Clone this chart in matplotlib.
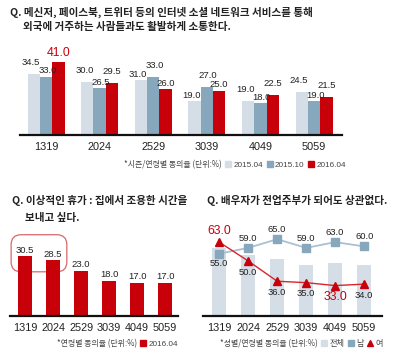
import matplotlib
matplotlib.use('Agg')
import matplotlib.pyplot as plt
from matplotlib.patches import FancyBboxPatch, Patch
from matplotlib.lines import Line2D

plt.rcParams['font.family'] = ['Liberation Sans', 'Noto Sans CJK KR', 'DejaVu Sans']

KR = ['Noto Sans CJK KR', 'DejaVu Sans']

# ── Data ───────────────────────────────────────────────────────────
ages = ['1319', '2024', '2529', '3039', '4049', '5059']

sns_2015_04 = [34.5, 30.0, 31.0, 19.0, 19.0, 24.5]
sns_2015_10 = [33.0, 26.5, 33.0, 27.0, 18.0, 19.0]
sns_2016_04 = [41.0, 29.5, 26.0, 25.0, 22.5, 21.5]

holiday_2016_04 = [30.5, 28.5, 23.0, 18.0, 17.0, 17.0]

spouse_total = [59.0, 54.0, 51.0, 47.5, 48.5, 47.5]
spouse_male = [55.0, 59.0, 65.0, 59.0, 63.0, 60.0]
spouse_female = [63.0, 50.0, 36.0, 35.0, 33.0, 34.0]

LIGHT = '#d5dee7'
MID = '#87a7bd'
RED = '#c8000a'
LINE_M = '#a9c1d3'
LINE_F = '#d8262c'
TXT = '#222222'

fig = plt.figure(figsize=(4.0, 3.6), dpi=100)
x = list(range(len(ages)))


def style_axis(ax, pad):
    for s in ['top', 'right', 'left']:
        ax.spines[s].set_visible(False)
    ax.spines['bottom'].set_linewidth(1.6)
    ax.spines['bottom'].set_color('#111111')
    ax.set_yticks([])
    ax.set_xticks(x)
    ax.set_xticklabels(ages, fontsize=7.8, color=TXT)
    ax.tick_params(axis='x', length=0, pad=pad)
    ax.set_facecolor('none')


def footnote(note, handles, labels, right, y):
    leg = fig.legend(handles, labels, loc='center right',
                     bbox_to_anchor=(right, y), bbox_transform=fig.transFigure,
                     ncol=len(handles), frameon=False, fontsize=5.9,
                     handlelength=0.7, handleheight=0.7, handletextpad=0.3,
                     columnspacing=0.45, borderpad=0, borderaxespad=0)
    for t in leg.get_texts():
        t.set_color('#444444')
    fig.canvas.draw()
    bb = leg.get_window_extent().transformed(fig.transFigure.inverted())
    fig.text(bb.x0 - 0.008, y, note, ha='right', va='center',
             fontsize=5.7, color='#444444', family=KR)


# ── Panel 1: SNS ───────────────────────────────────────────────────
ax1 = fig.add_axes([0.05, 0.625, 0.805, 0.236])
bw = 0.23
series = [sns_2015_04, sns_2015_10, sns_2016_04]
colors = [LIGHT, MID, RED]
xshift = [-2, 1, 0]
for i, vals in enumerate(series):
    xs = [xi + (i - 1) * bw for xi in x]
    ax1.bar(xs, vals, width=bw, color=colors[i], zorder=2)
    for g, (xi, v) in enumerate(zip(xs, vals)):
        # lift a label when it sits just above a slightly lower neighbour
        nbrs = [series[j][g] for j in (i - 1, i + 1) if 0 <= j < 3]
        lift = any(0 < v - n < 6 for n in nbrs)
        big = colors[i] == RED and v == max(sns_2016_04)
        dy = 7 if big else (8.3 if lift else 4.3)
        ax1.annotate(f'{v:.1f}', (xi, v), xytext=(xshift[i], dy),
                     textcoords='offset points', ha='center', va='center',
                     fontsize=8.8 if big else 6.8,
                     color=RED if big else TXT, zorder=3)
ax1.set_xlim(-0.485, 5.52)
ax1.set_ylim(0, 48)
style_axis(ax1, 5)

fig.text(0.025, 0.965, 'Q. 메신저, 페이스북, 트위터 등의 인터넷 소셜 네트워크 서비스를 통해',
         fontsize=7.6, fontweight='bold', family=KR, color=TXT, va='center')
fig.text(0.058, 0.925, '외국에 거주하는 사람들과도 활발하게 소통한다.',
         fontsize=7.6, fontweight='bold', family=KR, color=TXT, va='center')

footnote('*시즌/연령별 동의율 (단위:%)',
         [Patch(color=LIGHT), Patch(color=MID), Patch(color=RED)],
         ['2015.04', '2015.10', '2016.04'], 0.865, 1 - 165 / 360)

# ── Panel 2: holiday ───────────────────────────────────────────────
ax2 = fig.add_axes([0.025, 0.123, 0.42, 0.238])
ax2.bar(x, holiday_2016_04, width=0.52, color=RED, zorder=2)
for xi, v in zip(x, holiday_2016_04):
    ax2.annotate(f'{v:.1f}', (xi, v), xytext=(0, 1), textcoords='offset points',
                 ha='center', va='bottom', fontsize=6.8, color=TXT, zorder=3)
ax2.set_xlim(-0.54, 5.46)
ax2.set_ylim(0, 43.9)
style_axis(ax2, 5.5)

# rounded highlight box around the two youngest groups
to_in = ax2.transData + fig.dpi_scale_trans.inverted()
(bx0, by0) = to_in.transform((-0.5, max(holiday_2016_04[:2]) - 8))
(bx1, by1) = to_in.transform((1.49, max(holiday_2016_04[:2]) + 11))
ax2.add_patch(FancyBboxPatch((bx0, by0), bx1 - bx0, by1 - by0,
                             boxstyle='round,pad=0,rounding_size=0.1',
                             transform=fig.dpi_scale_trans, fill=False,
                             edgecolor='#d9666a', lw=0.9, clip_on=False, zorder=1))

fig.text(0.03, 1 - 200 / 360, 'Q. 이상적인 휴가 : 집에서 조용한 시간을',
         fontsize=7.6, fontweight='bold', family=KR, color=TXT, va='center')
fig.text(0.063, 1 - 218 / 360, '보내고 싶다.',
         fontsize=7.6, fontweight='bold', family=KR, color=TXT, va='center')

footnote('*연령별 동의율 (단위:%)', [Patch(color=RED)], ['2016.04'],
         178 / 400, 1 - 344 / 360)

# ── Panel 3: spouse ────────────────────────────────────────────────
ax3 = fig.add_axes([0.508, 0.1222, 0.446, 0.2528])
ax3.bar(x, spouse_total, width=0.5, color=LIGHT, zorder=1)
ax3.plot(x, spouse_male, color=LINE_M, lw=1.3, marker='s', ms=5.5,
         mfc=MID, mec=MID, zorder=2)
ax3.plot(x, spouse_female, color=LINE_F, lw=1.0, marker='^', ms=6,
         mfc=RED, mec=RED, zorder=3)
for i, v in enumerate(spouse_male):
    up = v >= spouse_female[i]
    ax3.annotate(f'{v:.1f}', (i, v), xytext=(0, 7 if up else -7),
                 textcoords='offset points', ha='center',
                 va='center', fontsize=6.8, color=TXT, zorder=4)
fmax, fmin = max(spouse_female), min(spouse_female)
for i, v in enumerate(spouse_female):
    up = v > spouse_male[i]
    hl = v in (fmax, fmin)
    ax3.annotate(f'{v:.1f}', (i, v), xytext=(0, 8 if up else -8),
                 textcoords='offset points', ha='center', va='center',
                 fontsize=8.8 if hl else 6.8, color=RED if hl else TXT, zorder=4)
ax3.set_xlim(-0.55, 5.6)
ax3.set_ylim(12, 74.8)
style_axis(ax3, 5)

fig.text(0.518, 1 - 200 / 360, 'Q. 배우자가 전업주부가 되어도 상관없다.',
         fontsize=7.6, fontweight='bold', family=KR, color=TXT, va='center')

footnote('*성별/연령별 동의율 (단위:%)',
         [Patch(color=LIGHT), Patch(color=MID),
          Line2D([], [], ls='none', marker='^', color=RED, ms=5)],
         ['전체', '남', '여'], 383 / 400, 1 - 344 / 360)

fig.savefig('out.png', dpi=100)
